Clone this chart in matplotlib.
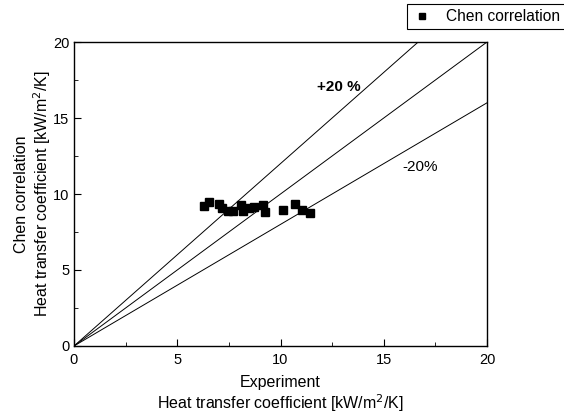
import matplotlib.pyplot as plt
import numpy as np

plt.rcParams['font.family'] = ['Liberation Sans', 'DejaVu Sans']

# experiment vs Chen correlation [kW/m2/K]
h_exp = [6.31, 6.54, 7.04, 7.15, 7.47, 7.70, 8.09, 8.18, 8.47, 8.73,
         9.17, 9.25, 10.14, 10.70, 11.03, 11.43]
h_chen = [9.23, 9.49, 9.32, 9.06, 8.90, 8.90, 9.28, 8.88, 9.06, 9.16,
          9.28, 8.84, 8.95, 9.34, 8.95, 8.77]
ratios = [1.2, 1.0, 0.8]

fig = plt.figure(figsize=(5.64, 4.16), dpi=100)
ax = fig.add_axes([0.1312, 0.1683, 0.7323, 0.7307])

xs = np.array([0, 20])
for r in ratios:
    ax.plot(xs, r * xs, color='black', lw=0.7)

ax.plot(h_exp, h_chen, 's', color='black', ms=6, label='Chen correlation')

ax.text(12.8, 17.05, '+20 %', fontsize=11, fontweight='bold', ha='center', va='center')
ax.text(16.75, 11.8, '-20%', fontsize=11, ha='center', va='center')

ax.set_xlim(0, 20)
ax.set_ylim(0, 20)
ax.set_xticks([0, 5, 10, 15, 20])
ax.set_yticks([0, 5, 10, 15, 20])
ax.set_xticks(np.arange(2.5, 20, 5), minor=True)
ax.set_yticks(np.arange(2.5, 20, 5), minor=True)
ax.tick_params(which='both', direction='in', labelsize=10.5, top=False, right=False)
ax.tick_params(which='major', length=5)
ax.tick_params(axis='x', which='major', pad=5)
ax.tick_params(which='minor', length=3)
for s in ax.spines.values():
    s.set_linewidth(1.0)

ax.set_xlabel('Experiment\nHeat transfer coefficient [kW/m$^2$/K]', fontsize=11.5,
              linespacing=1.1, labelpad=6)
ax.set_ylabel('Chen correlation\nHeat transfer coefficient [kW/m$^2$/K]', fontsize=11.5,
              linespacing=1.15, labelpad=0)

leg = fig.legend(loc='upper right', bbox_to_anchor=(1.015, 1.008), fontsize=11.2,
                 fancybox=False, edgecolor='black', framealpha=1, borderpad=0.3,
                 handletextpad=0.9, handlelength=1.3, numpoints=1, markerscale=0.8)
leg.get_frame().set_linewidth(0.8)

fig.savefig('out.png')
